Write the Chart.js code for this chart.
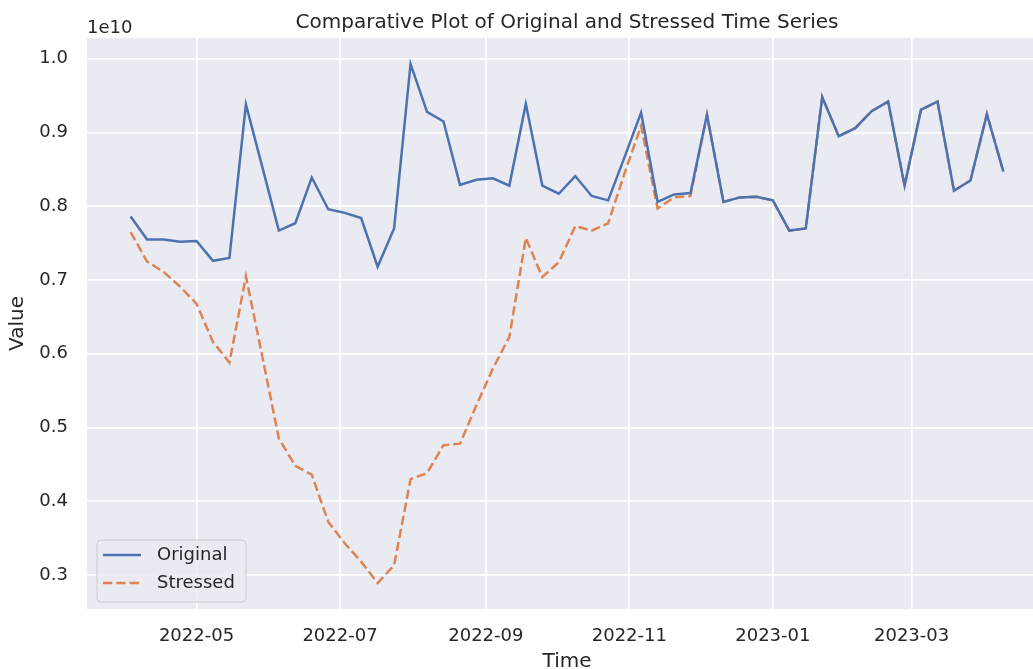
<!DOCTYPE html>
<html lang="en">
<head>
    <meta charset="UTF-8">
    <title>Comparative Plot of Original and Stressed Time Series</title>
    <script src="https://cdn.jsdelivr.net/npm/chart.js"></script>
    <style>
        html, body { margin: 0; padding: 0; background: #fff; overflow: hidden; width: 1033px; height: 669px; }
        canvas { display: block; }
    </style>
</head>
<body>

    <canvas id="chart" width="1060" height="690"></canvas>

    <script>
    // weekly dates (Sundays)
    const dates = [
        '2022-04-03', '2022-04-10', '2022-04-17', '2022-04-24', '2022-05-01', '2022-05-08',
        '2022-05-15', '2022-05-22', '2022-05-29', '2022-06-05', '2022-06-12', '2022-06-19',
        '2022-06-26', '2022-07-03', '2022-07-10', '2022-07-17', '2022-07-24', '2022-07-31',
        '2022-08-07', '2022-08-14', '2022-08-21', '2022-08-28', '2022-09-04', '2022-09-11',
        '2022-09-18', '2022-09-25', '2022-10-02', '2022-10-09', '2022-10-16', '2022-10-23',
        '2022-10-30', '2022-11-06', '2022-11-13', '2022-11-20', '2022-11-27', '2022-12-04',
        '2022-12-11', '2022-12-18', '2022-12-25', '2023-01-01', '2023-01-08', '2023-01-15',
        '2023-01-22', '2023-01-29', '2023-02-05', '2023-02-12', '2023-02-19', '2023-02-26',
        '2023-03-05', '2023-03-12', '2023-03-19', '2023-03-26', '2023-04-02', '2023-04-09'
    ];

    const original = [
        7.86e9, 7.55e9, 7.55e9, 7.52e9, 7.53e9, 7.26e9, 7.30e9, 9.38e9, 8.53e9, 7.67e9,
        7.77e9, 8.39e9, 7.96e9, 7.91e9, 7.84e9, 7.18e9, 7.70e9, 9.93e9, 9.28e9, 9.15e9,
        8.29e9, 8.36e9, 8.38e9, 8.28e9, 9.39e9, 8.28e9, 8.17e9, 8.41e9, 8.14e9, 8.08e9,
        8.67e9, 9.27e9, 8.06e9, 8.16e9, 8.18e9, 9.24e9, 8.06e9, 8.12e9, 8.13e9, 8.08e9,
        7.67e9, 7.70e9, 9.48e9, 8.95e9, 9.06e9, 9.29e9, 9.42e9, 8.28e9, 9.31e9, 9.42e9,
        8.21e9, 8.35e9, 9.25e9, 8.47e9
    ];

    const stressed = [
        7.65e9, 7.25e9, 7.11e9, 6.91e9, 6.68e9, 6.16e9, 5.88e9, 7.05e9, 5.96e9, 4.85e9,
        4.48e9, 4.36e9, 3.72e9, 3.43e9, 3.18e9, 2.89e9, 3.13e9, 4.30e9, 4.38e9, 4.76e9,
        4.78e9, 5.30e9, 5.80e9, 6.23e9, 7.57e9, 7.04e9, 7.24e9, 7.73e9, 7.67e9, 7.77e9,
        8.45e9, 9.09e9, 7.97e9, 8.12e9, 8.14e9, 9.24e9, 8.06e9, 8.12e9, 8.13e9, 8.08e9,
        7.67e9, 7.70e9, 9.48e9, 8.95e9, 9.06e9, 9.29e9, 9.42e9, 8.28e9, 9.31e9, 9.42e9,
        8.21e9, 8.35e9, 9.25e9, 8.47e9
    ];

    const monthTicks = ['2022-05', '2022-07', '2022-09', '2022-11', '2023-01', '2023-03'];
    const yTicks = [0.3e10, 0.4e10, 0.5e10, 0.6e10, 0.7e10, 0.8e10, 0.9e10, 1.0e10];

    const FONT = "'DejaVu Sans', 'Liberation Sans', sans-serif";
    const TEXT = '#262626';

    // matplotlib style 5% margins
    const tFirst = Date.parse(dates[0]);
    const tLast = Date.parse(dates[dates.length - 1]);
    const xPad = (tLast - tFirst) * 0.05;
    const yMin = Math.min(...original, ...stressed);
    const yMax = Math.max(...original, ...stressed);
    const yPad = (yMax - yMin) * 0.05;

    function points(values) {
        return dates.map((d, i) => ({ x: Date.parse(d), y: values[i] }));
    }

    const facePlugin = {
        id: 'face',
        beforeDraw(chart) {
            const { ctx, chartArea: a } = chart;
            ctx.save();
            ctx.fillStyle = '#EAEAF2';
            ctx.fillRect(a.left, a.top, a.right - a.left, a.bottom - a.top);
            ctx.restore();
        }
    };

    const textPlugin = {
        id: 'texts',
        afterDraw(chart) {
            const { ctx, chartArea: a } = chart;
            ctx.save();
            ctx.fillStyle = TEXT;
            ctx.font = '20px ' + FONT;
            ctx.textAlign = 'center';
            ctx.textBaseline = 'alphabetic';
            ctx.fillText('Comparative Plot of Original and Stressed Time Series', (a.left + a.right) / 2, a.top - 10);

            ctx.font = '18px ' + FONT;
            ctx.textAlign = 'left';
            ctx.fillText('1e10', a.left, a.top - 5);

            // legend, lower left
            const bx = a.left + 10, by = a.bottom - 69, bw = 149, bh = 62;
            ctx.beginPath();
            ctx.roundRect(bx, by, bw, bh, 4);
            ctx.fillStyle = 'rgba(234,234,242,0.8)';
            ctx.fill();
            ctx.strokeStyle = '#cccccc';
            ctx.lineWidth = 1;
            ctx.stroke();

            chart.data.datasets.forEach((ds, i) => {
                const yy = by + 15 + i * 28;
                ctx.beginPath();
                ctx.setLineDash(ds.borderDash || []);
                ctx.strokeStyle = ds.borderColor;
                ctx.lineWidth = ds.borderWidth;
                ctx.moveTo(bx + 6, yy);
                ctx.lineTo(bx + 44, yy);
                ctx.stroke();
                ctx.setLineDash([]);
                ctx.fillStyle = TEXT;
                ctx.textBaseline = 'middle';
                ctx.fillText(ds.label, bx + 60, yy);
            });
            ctx.restore();
        }
    };

    const ctx = document.getElementById('chart').getContext('2d');
    const myChart = new Chart(ctx, {
        type: 'line',
        data: {
            datasets: [
                {
                    label: 'Original',
                    data: points(original),
                    borderColor: '#4C72B0',
                    borderWidth: 2.5,
                    pointRadius: 0,
                    tension: 0,
                    fill: false
                },
                {
                    label: 'Stressed',
                    data: points(stressed),
                    borderColor: '#DD8452',
                    borderWidth: 2.5,
                    borderDash: [9.3, 4],
                    pointRadius: 0,
                    tension: 0,
                    fill: false
                }
            ]
        },
        options: {
            responsive: false,
            animation: false,
            devicePixelRatio: 1,
            layout: { padding: { top: 38, right: 13, left: 0, bottom: 0 } },
            plugins: {
                legend: { display: false },
                title: { display: false },
                tooltip: { enabled: false }
            },
            scales: {
                x: {
                    type: 'linear',
                    min: tFirst - xPad,
                    max: tLast + xPad,
                    grid: { color: '#ffffff', lineWidth: 1.7, drawTicks: false },
                    border: { display: false },
                    afterBuildTicks: s => { s.ticks = monthTicks.map(m => ({ value: Date.parse(m + '-01') })); },
                    afterFit: s => { s.height = 81; },
                    ticks: {
                        autoSkip: false,
                        maxRotation: 0,
                        padding: 17,
                        color: TEXT,
                        font: { family: FONT, size: 18 },
                        callback: v => {
                            const d = new Date(v);
                            return d.getUTCFullYear() + '-' + String(d.getUTCMonth() + 1).padStart(2, '0');
                        }
                    },
                    title: {
                        display: true,
                        text: 'Time',
                        color: TEXT,
                        font: { family: FONT, size: 20 },
                        padding: { top: 0, bottom: 16 }
                    }
                },
                y: {
                    min: yMin - yPad,
                    max: yMax + yPad,
                    grid: { color: '#ffffff', lineWidth: 1.7, drawTicks: false },
                    border: { display: false },
                    afterBuildTicks: s => { s.ticks = yTicks.map(v => ({ value: v })); },
                    afterFit: s => { s.width = 87; },
                    ticks: {
                        padding: 19,
                        color: TEXT,
                        font: { family: FONT, size: 18 },
                        callback: v => (v / 1e10).toFixed(1)
                    },
                    title: {
                        display: true,
                        text: 'Value',
                        color: TEXT,
                        font: { family: FONT, size: 20 },
                        padding: { top: 6, bottom: 0 }
                    }
                }
            }
        },
        plugins: [facePlugin, textPlugin]
    });
    </script>
</body>
</html>
